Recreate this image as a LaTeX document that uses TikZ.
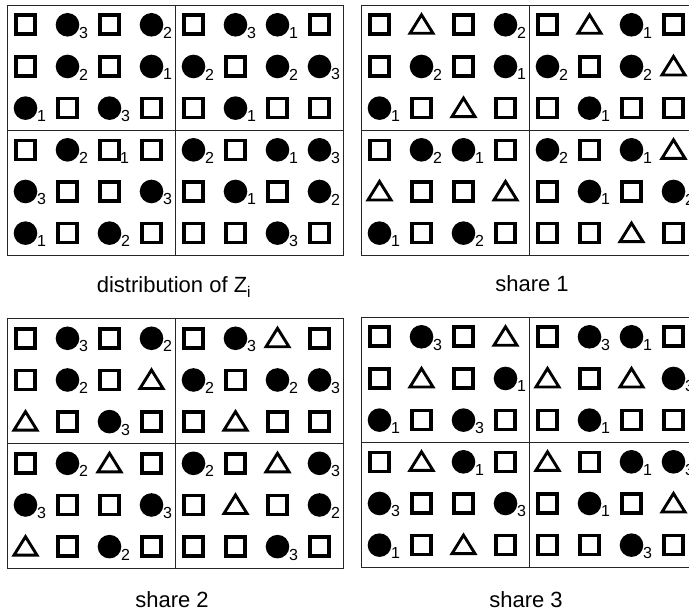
\documentclass[tikz,border=0pt]{standalone}
\usepackage{fontspec}
\setmainfont{Liberation Sans}
\usetikzlibrary{positioning}

\tikzset{
  frame/.style={line width=0.9pt, draw=black!85},
  sqsym/.style={line width=3.6pt, draw=black},
  trisym/.style={line width=2.9pt, draw=black, line join=miter},
  idx/.style={font=\fontsize{16}{16}\selectfont, inner sep=0pt},
  caption/.style={font=\fontsize{22}{23}\selectfont, inner sep=0pt, anchor=base}
}

% one symbol: 0 square, 1-3 dot with index, 4 triangle, 5 square with index 1
\newcommand\cellsym[4]{%
  \ifcase#4\relax
    \draw[sqsym] (#2-9.5,#3-9.5) rectangle (#2+9.5,#3+9.5);
  \or \fill (#2,#3) circle (11.8); \node[idx] (#1) at (#2+16,#3+8) {1};
  \or \fill (#2,#3) circle (11.8); \node[idx] (#1) at (#2+16,#3+8) {2};
  \or \fill (#2,#3) circle (11.8); \node[idx] (#1) at (#2+16,#3+8) {3};
  \or \draw[trisym] (#2-11.5,#3+8.5) -- (#2+11.5,#3+8.5) -- (#2,#3-10) -- cycle;
  \or \draw[sqsym] (#2-9.5,#3-9.5) rectangle (#2+9.5,#3+9.5);
      \node[idx] (#1) at (#2+15,#3+8) {1};
  \fi}

% one panel: name, left, top, rows of codes
\newcommand\symgrid[4]{%
  \draw[frame] (#2,#3) rectangle ++(336,250);
  \draw[frame] (#2+168,#3) -- ++(0,250);
  \draw[frame] (#2,#3+125) -- ++(336,0);
  \foreach \row [count=\r from 0] in {#4} {
    \foreach \c [count=\k from 0] in \row {
      \pgfmathsetmacro\cx{#2+42*\k+18.5}
      \pgfmathsetmacro\cy{#3+41.67*\r+19.8}
      \cellsym{#1-\r-\k}{\cx}{\cy}{\c}
    }
  }}

\begin{document}
\begin{tikzpicture}[x=1pt, y=-1pt]

\fill[white] (0,0) rectangle (689,612);
\useasboundingbox (0,0) rectangle (689,612);

% distribution of Z_i
\symgrid{zd}{7}{5}{{0,3,0,2,0,3,1,0},{0,2,0,1,2,0,2,3},{1,0,3,0,0,1,0,0},
  {0,2,5,0,2,0,1,3},{3,0,0,3,0,1,0,2},{1,0,2,0,0,0,3,0}}
\node[caption] (capz) at (174,293) {distribution of Z\textsubscript{i}};

% share 1
\symgrid{sa}{361}{5}{{0,4,0,2,0,4,1,0},{0,2,0,1,2,0,2,4},{1,0,4,0,0,1,0,0},
  {0,2,1,0,2,0,1,4},{4,0,0,4,0,1,0,2},{1,0,2,0,0,0,4,0}}
\node[caption] (capa) at (532,292) {share 1};

% share 2
\symgrid{sb}{7}{318.5}{{0,3,0,2,0,3,4,0},{0,2,0,4,2,0,2,3},{4,0,3,0,0,4,0,0},
  {0,2,4,0,2,0,4,3},{3,0,0,3,0,4,0,2},{4,0,2,0,0,0,3,0}}
\node[caption] (capb) at (172,607) {share 2};

% share 3
\symgrid{sc}{361}{317}{{0,3,0,4,0,3,1,0},{0,4,0,1,4,0,4,3},{1,0,3,0,0,1,0,0},
  {0,4,1,0,4,0,1,3},{3,0,0,3,0,1,0,4},{1,0,4,0,0,0,3,0}}
\node[caption] (capc) at (526,607) {share 3};

\end{tikzpicture}
\end{document}
